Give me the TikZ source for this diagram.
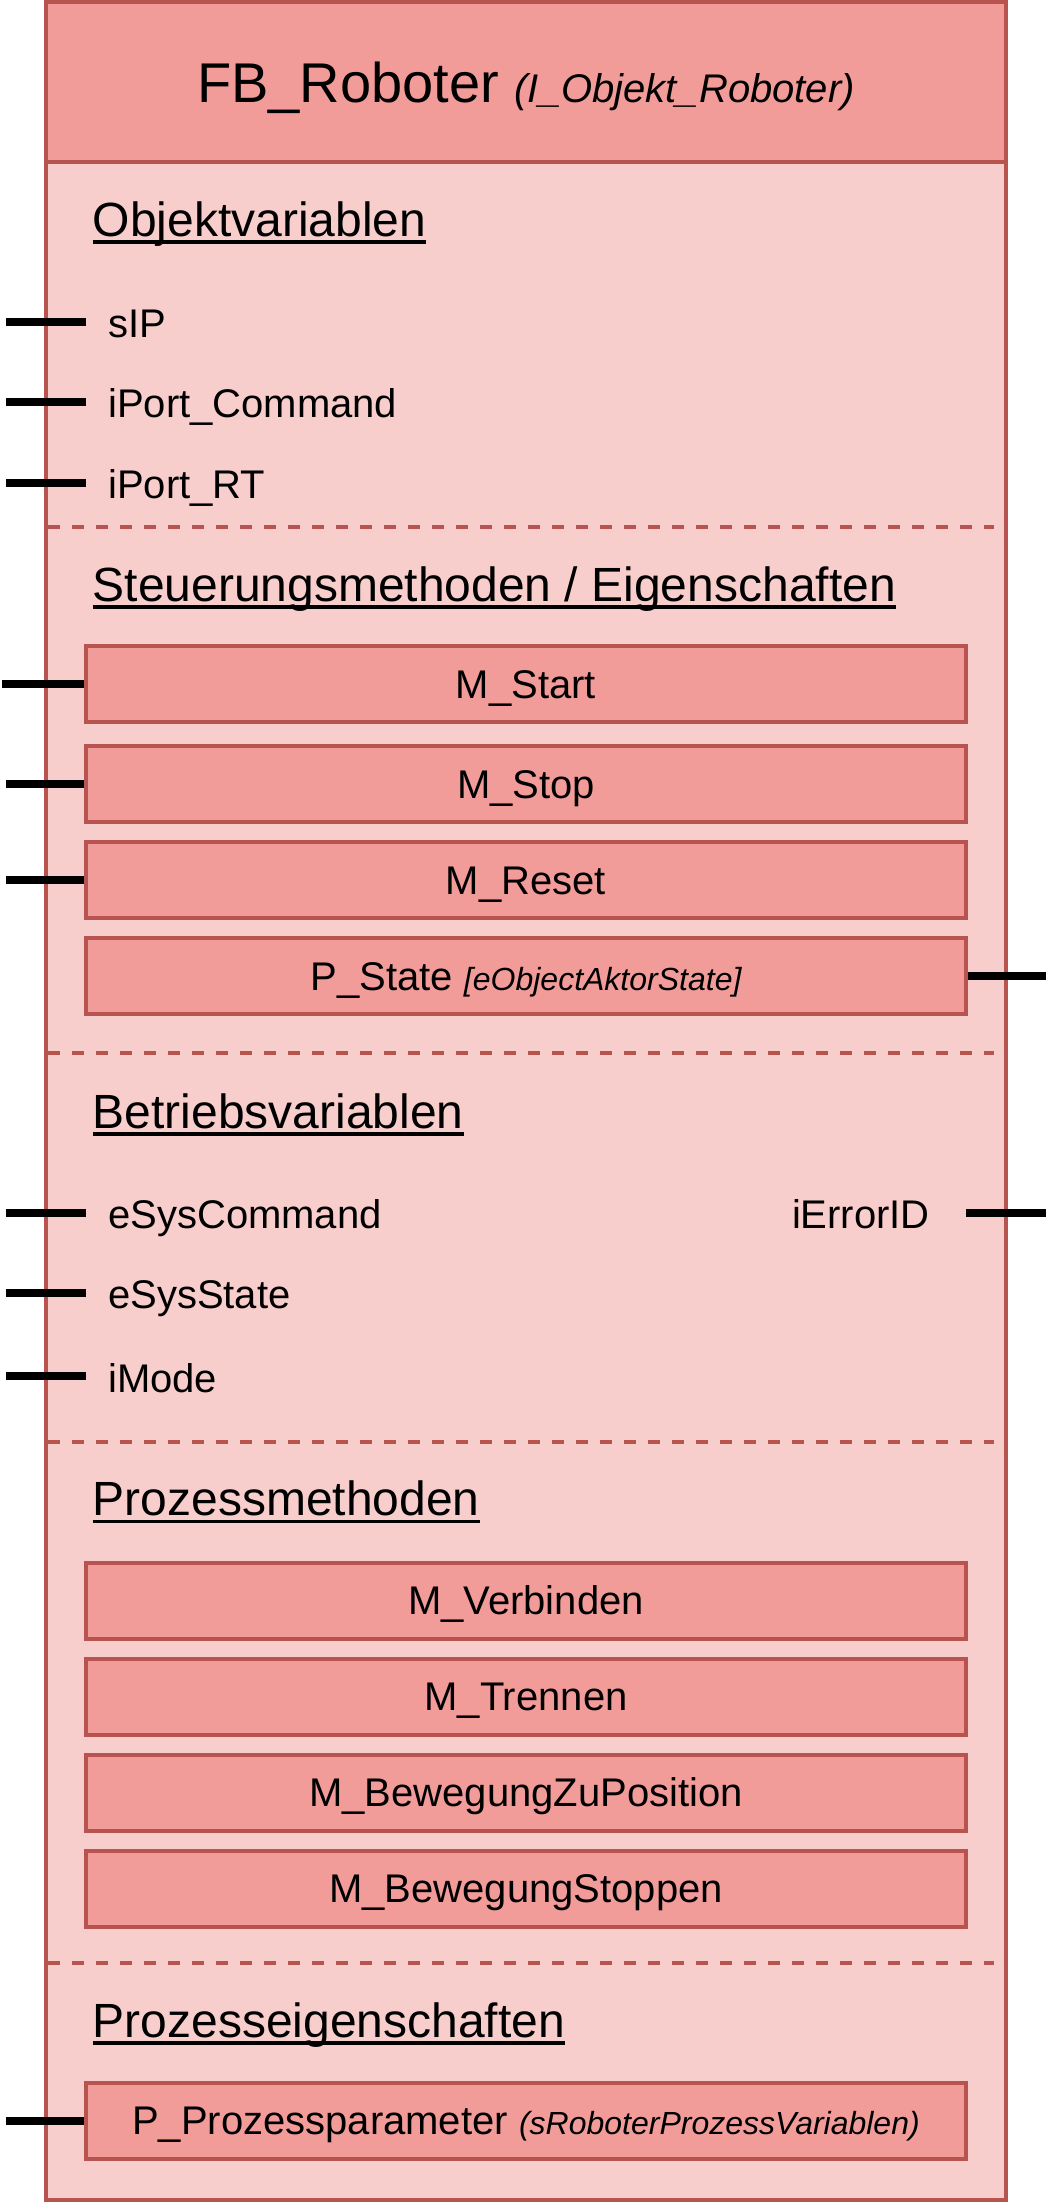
\documentclass[tikz,border=0pt]{standalone}
\usepackage{fontspec}
\setmainfont{Liberation Sans}
\definecolor{rborder}{HTML}{B85450}
\definecolor{rhead}{HTML}{F19C99}
\definecolor{rbody}{HTML}{F8CECC}
\newcommand\fsz[1]{\fontsize{#1pt}{#1pt}\selectfont}
\begin{document}
\begin{tikzpicture}[x=1pt,y=-1pt,
  frame/.style={draw=rborder,line width=4pt},
  mbox/.style={draw=rborder,fill=rhead,line width=4pt,minimum width=880pt,minimum height=76pt,inner sep=0pt,text height=28.6pt,text depth=0pt,font=\fsz{40}},
  var/.style={inner sep=0pt,font=\fsz{40}},
  sechead/.style={anchor=base west,inner sep=0pt,font=\fsz{48}},
  uline/.style={line width=3.5pt},
  port/.style={line width=8pt},
  sep/.style={draw=rborder,line width=4pt,dash pattern=on 12pt off 12pt},
]
\useasboundingbox (0,0) rectangle (1052,2204);

% outer block and header
\node[frame,fill=rbody,minimum width=960pt,minimum height=2198pt,inner sep=0pt] (fb) at (526,1101) {};
\node[frame,fill=rhead,minimum width=960pt,minimum height=160pt,inner sep=0pt] (hd) at (526,82) {};
\node[anchor=base,inner sep=0pt,font=\fsz{56}] (title) at (526,102) {FB\_Roboter {\fsz{40}\itshape (I\_Objekt\_Roboter)}};

% section separators
\draw[sep] (48,527) -- (994,527);
\draw[sep] (48,1052.5) -- (994,1052.5);
\draw[sep] (48,1442) -- (994,1442);
\draw[sep] (48,1963) -- (994,1963);

% section headers
\node[sechead] (h1) at (92.5,236) {Objektvariablen};
\node[sechead] (h2) at (92.5,601) {Steuerungsmethoden / Eigenschaften};
\node[sechead] (h3) at (92.5,1128) {Betriebsvariablen};
\node[sechead] (h4) at (92.5,1515.5) {Prozessmethoden};
\node[sechead] (h5) at (92.5,2037) {Prozesseigenschaften};
\foreach \h in {h1,h2,h3,h4,h5}
  \draw[uline] ([yshift=-6pt]\h.base west) -- ([yshift=-6pt]\h.base east);

% Objektvariablen
\node[var,anchor=base west] (sip) at (108,337) {sIP};
\node[var,anchor=base west] (ipc) at (108,417) {iPort\_Command};
\node[var,anchor=base west] (iprt) at (108,498.5) {iPort\_RT};
\coordinate (sipA) at (6,322);   \coordinate (sipB) at (86,322);
\coordinate (ipcA) at (6,402);   \coordinate (ipcB) at (86,402);
\coordinate (iprtA) at (6,483);  \coordinate (iprtB) at (86,483);
\draw[port] (sipA) -- (sipB);
\draw[port] (ipcA) -- (ipcB);
\draw[port] (iprtA) -- (iprtB);

% Steuerungsmethoden / Eigenschaften
\node[mbox] (mstart) at (526,684) {M\_Start};
\node[mbox] (mstop) at (526,784) {M\_Stop};
\node[mbox] (mreset) at (526,880) {M\_Reset};
\node[mbox] (pstate) at (526,976) {P\_State {\fsz{32}\itshape [eObjectAktorState]}};
\coordinate (mstartA) at (2,684);
\coordinate (mstopA) at (6,784);
\coordinate (mresetA) at (6,880);
\coordinate (pstateB) at (1046,976);
\draw[port] (mstartA) -- (mstart.west);
\draw[port] (mstopA) -- (mstop.west);
\draw[port] (mresetA) -- (mreset.west);
\draw[port] (pstate.east) -- (pstateB);

% Betriebsvariablen
\node[var,anchor=base west] (esc) at (108,1228.5) {eSysCommand};
\node[var,anchor=base west] (ess) at (108,1308) {eSysState};
\node[var,anchor=base west] (imode) at (108,1392) {iMode};
\node[var,anchor=base east] (ierr) at (930,1228.5) {iErrorID};
\coordinate (escA) at (6,1213);    \coordinate (escB) at (86,1213);
\coordinate (essA) at (6,1293);    \coordinate (essB) at (86,1293);
\coordinate (imodeA) at (6,1376);  \coordinate (imodeB) at (86,1376);
\coordinate (ierrA) at (966,1213); \coordinate (ierrB) at (1046,1213);
\draw[port] (escA) -- (escB);
\draw[port] (essA) -- (essB);
\draw[port] (imodeA) -- (imodeB);
\draw[port] (ierrA) -- (ierrB);

% Prozessmethoden
\node[mbox] (mverb) at (526,1600.5) {M\_Verbinden};
\node[mbox] (mtrenn) at (526,1696.5) {M\_Trennen};
\node[mbox] (mbzp) at (526,1792.5) {M\_BewegungZuPosition};
\node[mbox] (mbst) at (526,1888.5) {M\_BewegungStoppen};

% Prozesseigenschaften
\node[mbox] (ppar) at (526,2120.5) {P\_Prozessparameter {\fsz{32}\itshape (sRoboterProzessVariablen)}};
\coordinate (pparA) at (6,2120.5);
\draw[port] (pparA) -- (ppar.west);
\end{tikzpicture}
\end{document}
